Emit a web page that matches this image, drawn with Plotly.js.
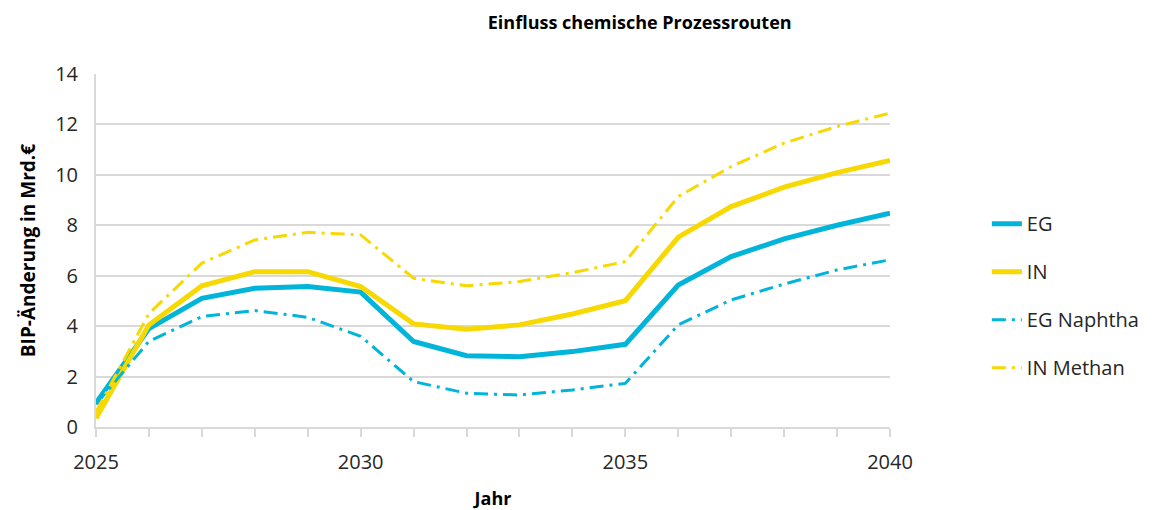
<!DOCTYPE html>
<html>
<head>
<meta charset="utf-8">
<script src="https://cdn.plot.ly/plotly-3.0.1.min.js"></script>
<style>html,body{margin:0;padding:0;background:#fff;}#chart{width:1161px;height:510px;}</style>
</head>
<body>
<div id="chart"></div>
<script>
const years = [2025,2026,2027,2028,2029,2030,2031,2032,2033,2034,2035,2036,2037,2038,2039,2040];
const eg =        [0.95,3.9,5.1,5.5,5.57,5.35,3.39,2.83,2.79,2.99,3.28,5.63,6.76,7.46,8.0,8.48];
const inn =       [0.35,4.05,5.6,6.16,6.16,5.57,4.09,3.88,4.05,4.48,5.01,7.53,8.74,9.51,10.09,10.57];
const egNaphtha = [0.9,3.4,4.38,4.62,4.35,3.6,1.8,1.34,1.27,1.47,1.73,4.05,5.04,5.67,6.23,6.63];
const inMethan =  [0.6,4.5,6.5,7.42,7.72,7.62,5.9,5.6,5.77,6.12,6.56,9.14,10.33,11.26,11.92,12.45];
const names = ['EG','IN','EG Naphtha','IN Methan'];
const yTicks = [0,2,4,6,8,10,12,14];
const xTicks = [2025,2030,2035,2040];

const cyan = '#00B4DA', yellow = '#F7D800';
const FONT = '"Open Sans", "Noto Sans", sans-serif';
const dd = '14px,6px,3px,6px';

const traces = [
  {x: years, y: eg, name: names[0], legendgroup: 'a', mode: 'lines', line: {color: cyan, width: 5}},
  {x: years, y: inn, name: names[1], legendgroup: 'b', mode: 'lines', line: {color: yellow, width: 5}},
  {x: years, y: egNaphtha, name: names[2], legendgroup: 'c', mode: 'lines', line: {color: cyan, width: 3, dash: dd}},
  {x: years, y: inMethan, name: names[3], legendgroup: 'd', mode: 'lines', line: {color: yellow, width: 3, dash: dd}}
];

const layout = {
  width: 1161, height: 510,
  margin: {l: 96, r: 271, t: 74, b: 83},
  paper_bgcolor: '#fff', plot_bgcolor: '#fff',
  font: {family: FONT, size: 20, color: '#262626'},
  title: {text: '<b>Einfluss chemische Prozessrouten</b>', x: 0.551, xanchor: 'center', y: 0.955, yanchor: 'middle', font: {family: FONT, size: 18, color: '#000'}},
  xaxis: {
    range: [2025, 2040], tickvals: xTicks, ticktext: xTicks.map(String),
    showgrid: false, zeroline: false,
    showline: true, linecolor: '#d9d9d9', linewidth: 2,
    ticks: 'outside', ticklen: 8, tickcolor: '#d9d9d9', tickwidth: 2,
    minor: {dtick: 1, tick0: 2025, ticks: 'outside', ticklen: 8, tickcolor: '#d9d9d9', tickwidth: 2, showgrid: false},
    ticklabelstandoff: 8,
    tickfont: {family: FONT, size: 20, color: '#262626'},
    title: {text: '<b>Jahr</b>', standoff: 18, font: {family: FONT, size: 18, color: '#000'}}
  },
  yaxis: {
    range: [0, 14], tickvals: yTicks,
    showgrid: true, gridcolor: '#d9d9d9', gridwidth: 2,
    zeroline: false, showline: true, linecolor: '#d9d9d9', linewidth: 2,
    ticks: '', ticklabelstandoff: 12,
    tickfont: {family: FONT, size: 20, color: '#262626'},
    title: {text: '<b>BIP-Änderung in Mrd.€</b>', standoff: 14, font: {family: FONT, size: 19, color: '#000'}}
  },
  legend: {x: 1.122, xanchor: 'left', y: 0.372, yanchor: 'middle', tracegroupgap: 19, itemwidth: 30,
    font: {family: FONT, size: 20, color: '#262626'}, bgcolor: 'rgba(0,0,0,0)'},
  showlegend: true
};

Plotly.newPlot('chart', traces, layout, {displayModeBar: false, staticPlot: true});
</script>
</body>
</html>
